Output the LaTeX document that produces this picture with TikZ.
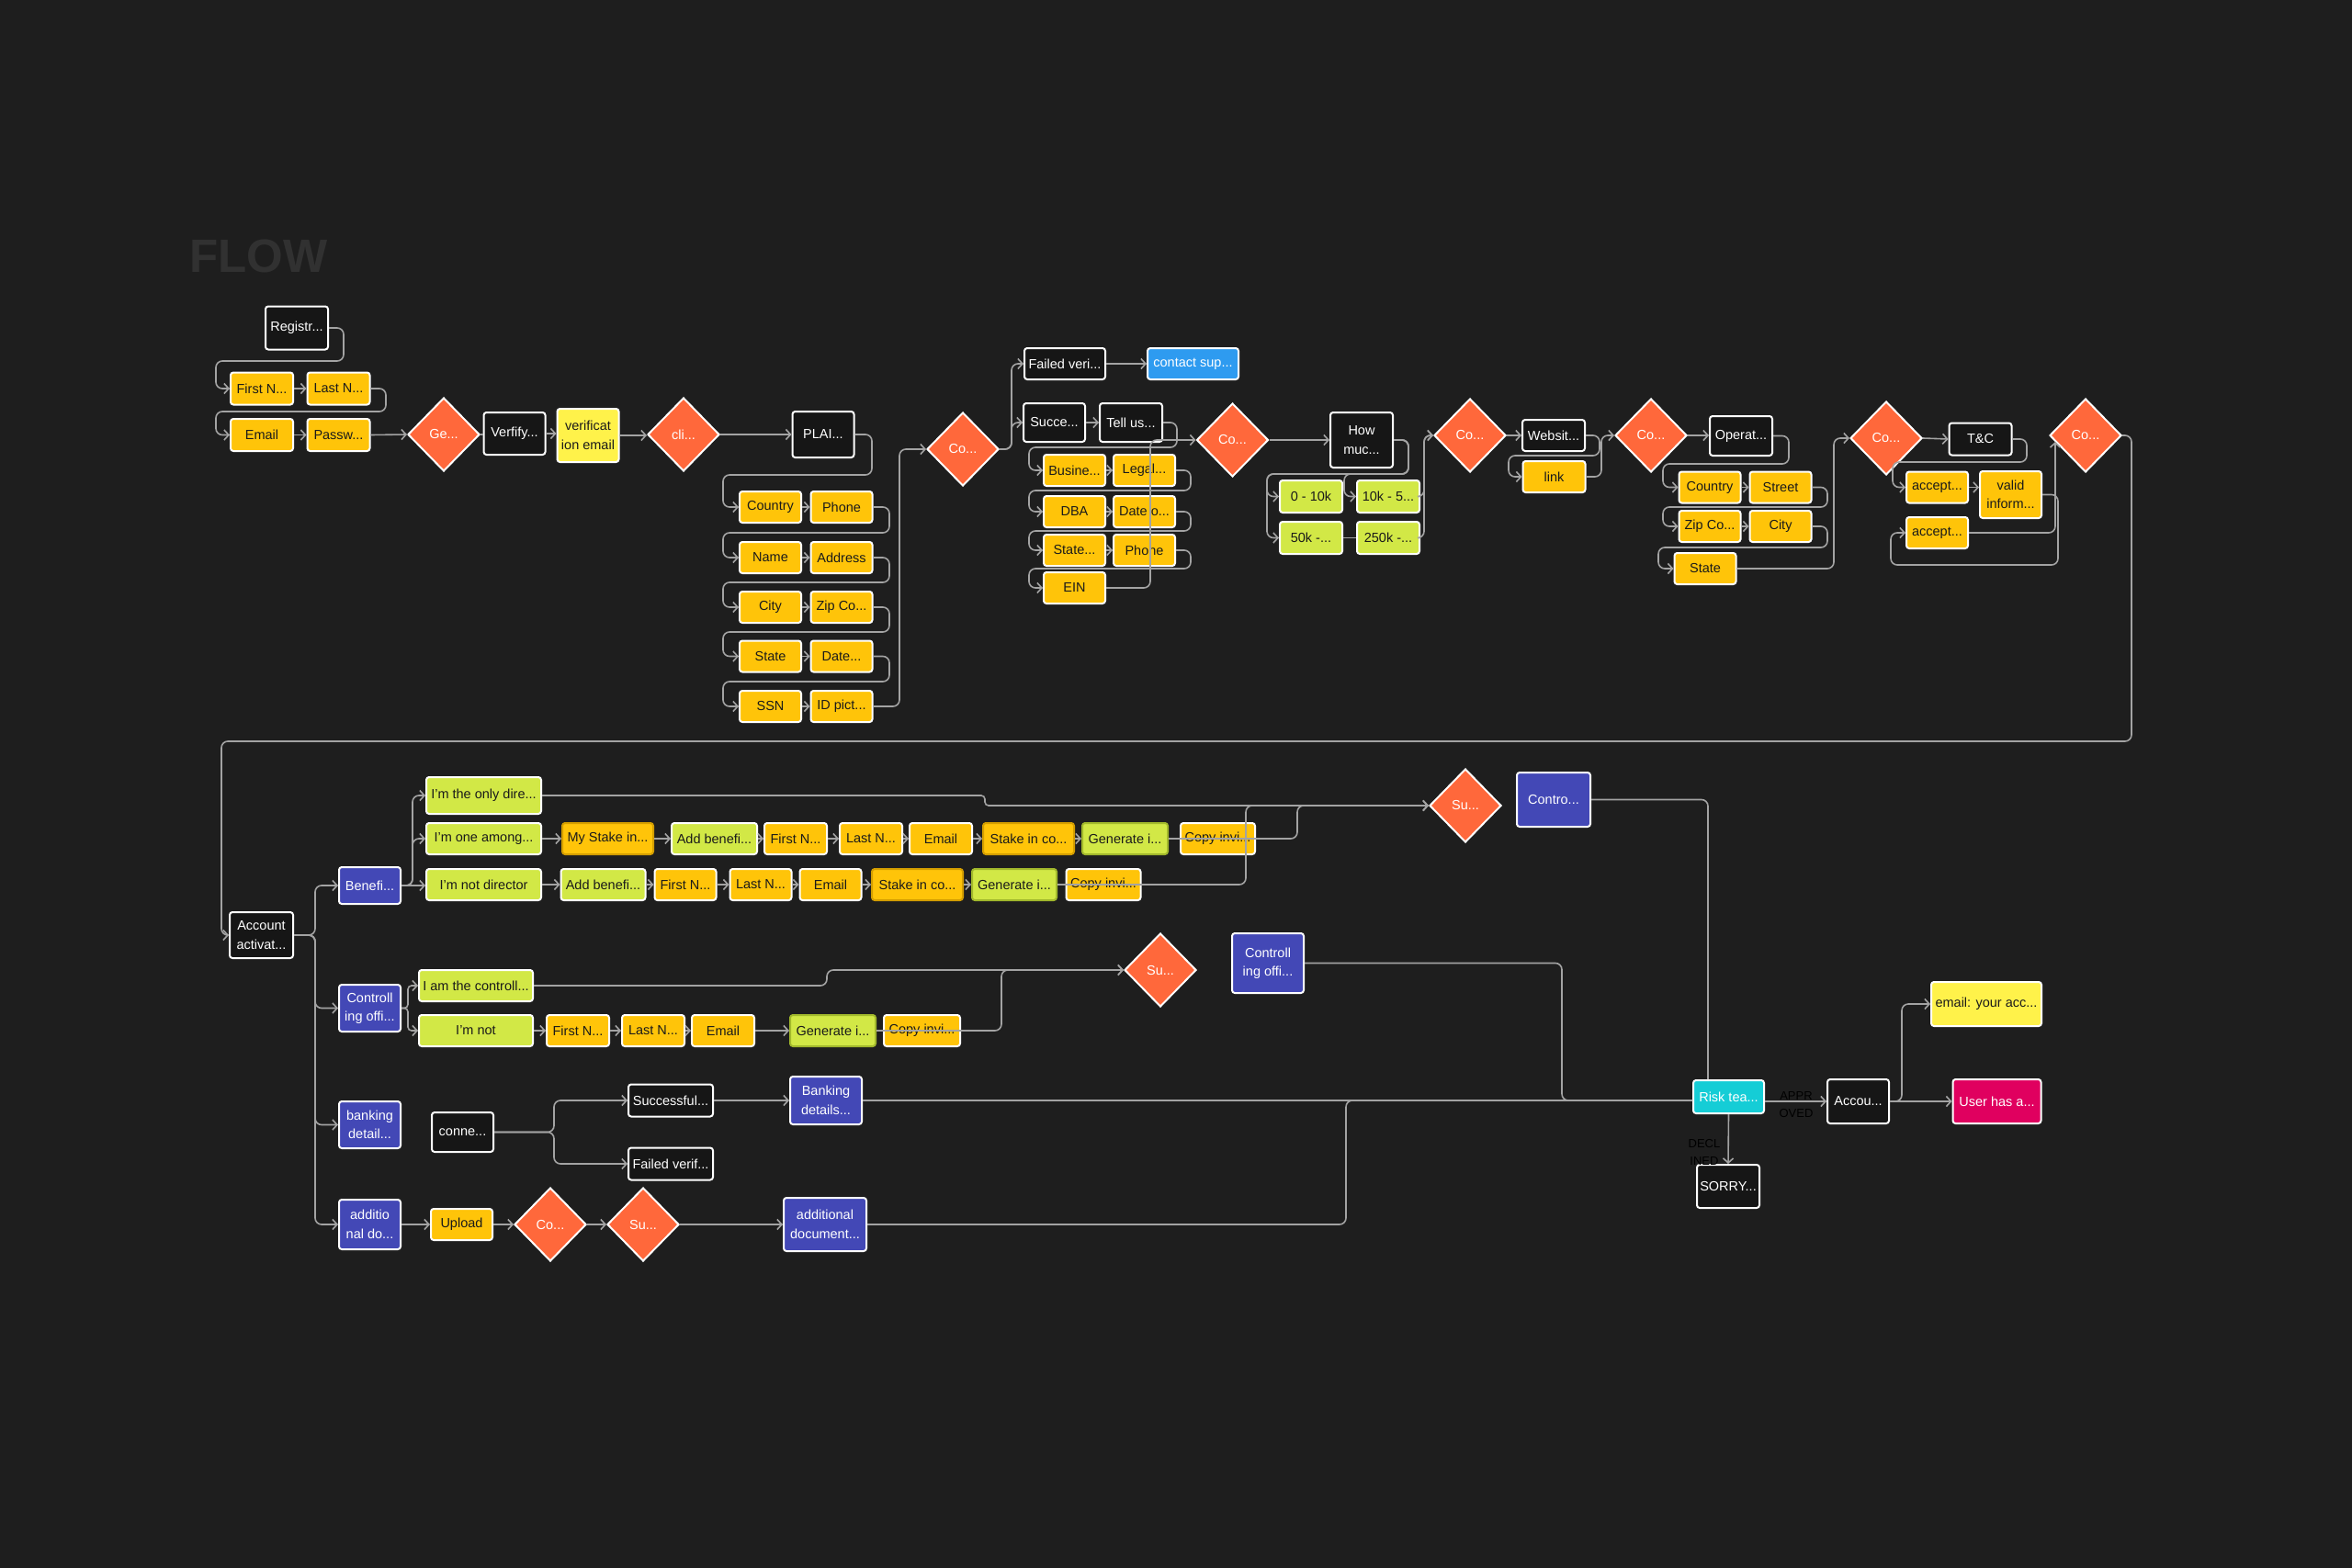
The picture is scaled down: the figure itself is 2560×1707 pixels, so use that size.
\documentclass[tikz,border=0pt]{standalone}
\usepackage{fontspec}
\setmainfont{Liberation Sans}
\usetikzlibrary{shapes.geometric,arrows.meta,calc}

\definecolor{bg}{HTML}{1E1E1E}
\definecolor{flowc}{HTML}{313131}
\definecolor{boxblk}{HTML}{161616}
\definecolor{ylwc}{HTML}{FFC409}
\definecolor{ylwd}{HTML}{D49E00}
\definecolor{limec}{HTML}{D2E846}
\definecolor{limed}{HTML}{A2B92C}
\definecolor{vylw}{HTML}{FFF24A}
\definecolor{indc}{HTML}{4348B6}
\definecolor{orc}{HTML}{FF683B}
\definecolor{bluec}{HTML}{2E9BF0}
\definecolor{cyanc}{HTML}{15CDD6}
\definecolor{magc}{HTML}{E0005F}
\definecolor{linec}{HTML}{A3A3A3}
\definecolor{txtd}{HTML}{1A1A1A}

\tikzset{
  nd/.style={draw=white, line width=2pt, rounded corners=3pt, minimum width=67pt, minimum height=34pt,
    inner sep=1pt, align=center, font=\fontsize{14.5}{20.5}\selectfont},
  sz/.style 2 args={minimum width=#1pt, minimum height=#2pt},
  blk/.style={nd, fill=boxblk, text=white},
  ylw/.style={nd, fill=ylwc, text=txtd},
  ylwx/.style={ylw, draw=ylwd},
  lim/.style={nd, fill=limec, text=txtd},
  limx/.style={lim, draw=limed},
  vyl/.style={nd, fill=vylw, text=txtd},
  ind/.style={nd, fill=indc, text=white},
  blu/.style={nd, fill=bluec, text=white},
  cya/.style={nd, fill=cyanc, text=white},
  mag/.style={nd, fill=magc, text=white},
  dia/.style={diamond, draw=white, line width=2pt, fill=orc, text=white, minimum width=78pt,
    minimum height=80pt, inner sep=0pt, font=\fontsize{14.5}{17}\selectfont},
  lbl/.style={inner sep=0pt, align=center, text=black, font=\fontsize{13}{19}\selectfont},
  conn/.style={draw=linec, line width=1.6pt, rounded corners=7pt, -{Straight Barb[length=5pt,width=11pt]}},
  plain/.style={draw=linec, line width=1.6pt, rounded corners=7pt},
}

\begin{document}
\begin{tikzpicture}[x=1pt,y=-1pt]
\useasboundingbox (0,0) rectangle (2560,1707);
\fill[bg] (0,0) rectangle (2560,1707);

\node[anchor=base west, inner sep=0pt, text=flowc, font=\fontsize{51}{60}\selectfont\bfseries] (title) at (206,296) {FLOW};

% ---------- top section ----------
\node[blk, sz={68}{47}] (reg) at (323,357) {Registr...};
\node[ylw, sz={68}{35}] (first) at (285,423) {First N...};
\node[ylw, sz={68}{35}] (last) at (368.5,423) {Last N...};
\node[ylw, sz={68}{35}] (email) at (285,473.5) {Email};
\node[ylw, sz={68}{35}] (passw) at (368.5,473.5) {Passw...};
\node[dia] (ge) at (483,473) {Ge...};
\node[blk, sz={67}{46}] (verf) at (560,472) {Verfify...};
\node[vyl, sz={67}{58}] (vem) at (640,474) {verificat\\ion email};
\node[dia] (cli) at (744,473) {cli...};
\node[blk, sz={67}{50}] (plai) at (896,473) {PLAI...};

\node[ylw] (country) at (838.5,552) {Country};
\node[ylw] (phone) at (916,552) {Phone};
\node[ylw] (name) at (838.5,607) {Name};
\node[ylw] (addr) at (916,607) {Address};
\node[ylw] (city) at (838.5,661) {City};
\node[ylw] (zip) at (916,661) {Zip Co...};
\node[ylw] (state) at (838.5,714.5) {State};
\node[ylw] (date) at (916,714.5) {Date...};
\node[ylw] (ssn) at (838.5,769) {SSN};
\node[ylw] (idp) at (916,769) {ID pict...};

\node[dia] (coA) at (1048,489) {Co...};
\node[blk, sz={88}{34}] (failed) at (1159,396) {Failed veri...};
\node[blu, sz={99}{34}] (contact) at (1298.5,396) {contact sup...};
\node[blk, sz={67}{42}] (succ) at (1147.5,460) {Succe...};
\node[blk, sz={68}{42}] (tell) at (1231,460) {Tell us...};
\node[ylw] (busi) at (1169.5,512) {Busine...};
\node[ylw] (legal) at (1245.5,512) {Legal...};
\node[ylw] (dba) at (1169.5,557) {DBA};
\node[ylw] (dateo) at (1245.5,557) {Date o...};
\node[ylw] (state2) at (1169.5,599) {State...};
\node[ylw] (phone2) at (1245.5,599) {Phone};
\node[ylw] (ein) at (1169.5,640) {EIN};

\node[dia] (coB) at (1341.5,479) {Co...};
\node[blk, sz={68}{60}] (hm) at (1482,479) {How\\muc...};
\node[lim, sz={68}{35}] (r1) at (1427,540.5) {0 - 10k};
\node[lim, sz={68}{35}] (r2) at (1511,540.5) {10k - 5...};
\node[lim, sz={68}{35}] (r3) at (1427,585.5) {50k -...};
\node[lim, sz={68}{35}] (r4) at (1511,585.5) {250k -...};

\node[dia] (coC) at (1600,474) {Co...};
\node[blk, sz={68}{34}] (web) at (1691,474) {Websit...};
\node[ylw, sz={68}{34}] (link) at (1691.5,519) {link};
\node[dia] (coD) at (1797,474) {Co...};
\node[blk, sz={68}{43}] (oper) at (1895,474.5) {Operat...};
\node[ylw] (country2) at (1861,530.5) {Country};
\node[ylw] (street) at (1938,530.5) {Street};
\node[ylw] (zip2) at (1861,573) {Zip Co...};
\node[ylw] (city2) at (1938,573) {City};
\node[ylw] (state3) at (1856,619) {State};
\node[dia] (coE) at (2053,477) {Co...};
\node[blk, sz={68}{35}] (tc) at (2155.5,478) {T\&C};
\node[ylw] (acc1) at (2108.5,530.5) {accept...};
\node[ylw, sz={67}{51}] (valid) at (2188.5,538.5) {valid\\inform...};
\node[ylw] (acc2) at (2108.5,580) {accept...};
\node[dia] (coF) at (2270,474) {Co...};

% ---------- lower section ----------
\node[blk, sz={69}{50}] (acct) at (284.5,1018) {Account\\activat...};
\node[ind, sz={67}{40}] (ben) at (402.5,964) {Benefi...};
\node[lim, sz={125}{40}] (only) at (526.5,866) {I'm the only dire...};
\node[lim, sz={125}{34}] (one) at (526.5,913) {I'm one among...};
\node[lim, sz={125}{34}] (notd) at (526.5,963) {I'm not director};

\node[ylwx, sz={99}{34}] (mys) at (661.5,913) {My Stake in...};
\node[lim, sz={93}{34}] (add2) at (777.5,913) {Add benefi...};
\node[ylw, sz={68}{34}] (first2) at (866,913) {First N...};
\node[ylw, sz={68}{34}] (last2) at (948,913) {Last N...};
\node[ylw, sz={68}{34}] (email2) at (1024,913) {Email};
\node[ylwx, sz={99}{34}] (stake2) at (1119.5,913) {Stake in co...};
\node[limx, sz={93}{34}] (gen2) at (1224.5,913) {Generate i...};
\node[ylw, sz={81}{34}] (copy2) at (1325.5,913) {Copy invi...};

\node[lim, sz={92}{34}] (add3) at (656.5,963) {Add benefi...};
\node[ylw, sz={67}{34}] (first3) at (746,963) {First N...};
\node[ylw, sz={67}{34}] (last3) at (828,963) {Last N...};
\node[ylw, sz={67}{34}] (email3) at (904,963) {Email};
\node[ylwx, sz={99}{34}] (stake3) at (998.5,963) {Stake in co...};
\node[limx, sz={92}{34}] (gen3) at (1104,963) {Generate i...};
\node[ylw, sz={81}{34}] (copy3) at (1201,963) {Copy invi...};

\node[dia] (su1) at (1595,877) {Su...};
\node[ind, sz={80}{59}] (contro) at (1691,870.5) {Contro...};

\node[ind, sz={67}{51}] (ctrl1) at (402.5,1097.5) {Controll\\ing offi...};
\node[lim, sz={124}{34}] (amc) at (518,1073) {I am the controll...};
\node[lim, sz={124}{34}] (notc) at (518,1122) {I'm not};
\node[ylw, sz={68}{34}] (first4) at (629,1122) {First N...};
\node[ylw, sz={68}{34}] (last4) at (711,1122) {Last N...};
\node[ylw, sz={68}{34}] (email4) at (787,1122) {Email};
\node[limx, sz={93}{34}] (gen4) at (906.5,1122) {Generate i...};
\node[ylw, sz={83}{34}] (copy4) at (1003.5,1122) {Copy invi...};
\node[dia] (su2) at (1263,1056) {Su...};
\node[ind, sz={78}{65}] (ctrl2) at (1380,1048.5) {Controll\\ing offi...};

\node[ind, sz={67}{51}] (bank) at (402.5,1224.5) {banking\\detail...};
\node[blk, sz={67}{43}] (conne) at (503.5,1232.5) {conne...};
\node[blk, sz={92}{35}] (succ2) at (730,1198) {Successful...};
\node[blk, sz={92}{35}] (fail2) at (730,1267) {Failed verif...};
\node[ind, sz={78}{52}] (bdet) at (899,1198) {Banking\\details...};

\node[ind, sz={67}{54}] (addo) at (402.5,1333) {additio\\nal do...};
\node[ylw, sz={67}{34}] (upl) at (502.5,1333) {Upload};
\node[dia] (coG) at (599,1333) {Co...};
\node[dia] (suG) at (700,1333) {Su...};
\node[ind, sz={90}{58}] (adoc) at (898,1333) {additional\\document...};

\node[cya, sz={77}{36}] (risk) at (1881.5,1194) {Risk tea...};
\node[blk, sz={67}{48}] (accou) at (2022.5,1199) {Accou...};
\node[vyl, sz={120}{48}] (emailr) at (2162,1093) {email: your acc...};
\node[mag, sz={96}{48}] (user) at (2173.5,1199) {User has a...};
\node[blk, sz={68}{47}] (sorry) at (1881,1291.5) {SORRY...};

\node[lbl] (lapp) at (1955,1203) {APPR\\OVED};
\node[lbl] (ldec) at (1855,1254) {DECL\\INED};

% ---------- connectors: top ----------
\draw[conn] (reg.east) -| (374,393) -| (235,423) -- (first.west);
\draw[conn] (first.east) -- (last.west);
\draw[conn] (last.east) -| (420,448) -| (235,473.5) -- (email.west);
\draw[conn] (email.east) -- (passw.west);
\draw[conn] (passw.east) -- (ge.west);
\draw[plain] (ge.east) -- (ge.east -| verf.west);
\draw[conn] (verf.east) -- (verf.east -| vem.west);
\draw[conn] (vem.east) -- (vem.east -| cli.west);
\draw[conn] (cli.east) -- (plai.west);

\draw[conn] (plai.east) -| (949,517) -| (787,552) -- (country.west);
\draw[conn] (country.east) -- (phone.west);
\draw[conn] (phone.east) -| (968,580) -| (787,607) -- (name.west);
\draw[conn] (name.east) -- (addr.west);
\draw[conn] (addr.east) -| (968,634) -| (787,661) -- (city.west);
\draw[conn] (city.east) -- (zip.west);
\draw[conn] (zip.east) -| (968,688) -| (787,714.5) -- (state.west);
\draw[conn] (state.east) -- (date.west);
\draw[conn] (date.east) -| (968,742) -| (787,769) -- (ssn.west);
\draw[conn] (ssn.east) -- (idp.west);
\draw[conn] (idp.east) -| (979,489) -- (coA.west);

\draw[conn] (coA.east) -| (1101,460) -- (succ.west);
\draw[conn] (coA.east) -| (1101,396) -- (failed.west);
\draw[conn] (failed.east) -- (contact.west);
\draw[conn] (succ.east) -- (tell.west);
\draw[conn] (tell.east) -| (1281,487) -| (1120,512) -- (busi.west);
\draw[conn] (busi.east) -- (legal.west);
\draw[conn] (legal.east) -| (1296,534) -| (1120,557) -- (dba.west);
\draw[conn] (dba.east) -- (dateo.west);
\draw[conn] (dateo.east) -| (1296,578) -| (1120,599) -- (state2.west);
\draw[conn] (state2.east) -- (phone2.west);
\draw[conn] (phone2.east) -| (1296,619) -| (1120,640) -- (ein.west);
\draw[conn] (ein.east) -| (1252,479) -- (coB.west);

\draw[conn] (coB.east) -- (hm.west);
\draw[conn] (hm.east) -| (1533,516) -| (1379,540.5) -- (r1.west);
\draw[conn] (hm.east) -| (1533,516) -| (1463,540.5) -- (r2.west);
\draw[conn] (hm.east) -| (1533,516) -| (1379,585.5) -- (r3.west);
\draw[plain] (r3.east) -- (r4.west);
\draw[conn] (r2.east) -| (1550,474) -- (coC.west);
\draw[conn] (r4.east) -| (1550,474) -- (coC.west);

\draw[conn] (coC.east) -- (web.west);
\draw[conn] (web.east) -| (1741,496) -| (1642,519) -- (link.west);
\draw[conn] (link.east) -| (1743,474) -- (coD.west);
\draw[conn] (coD.east) -- (coD.east -| oper.west);
\draw[conn] (oper.east) -| (1947,505) -| (1810,530.5) -- (country2.west);
\draw[conn] (country2.east) -- (street.west);
\draw[conn] (street.east) -| (1989,552) -| (1810,573) -- (zip2.west);
\draw[conn] (zip2.east) -- (city2.west);
\draw[conn] (city2.east) -| (1989,596) -| (1805,619) -- (state3.west);
\draw[conn] (state3.east) -| (1996,477) -- (coE.west);
\draw[conn] (coE.east) -- (tc.west);
\draw[conn] (tc.east) -| (2206,503) -| (2060,530.5) -- (acc1.west);
\draw[conn] (acc1.east) -- (acc1.east -| valid.west);
\draw[conn] (valid.east) -| (2240,615) -| (2058,580) -- (acc2.west);
\draw[conn] (acc2.east) -| ([xshift=7pt,yshift=-7pt]coF.west);
\draw[conn] (coF.east) -| (2320,807) -| (241,1018) -- (acct.west);

% ---------- connectors: lower ----------
\draw[conn] (acct.east) -- (343,1018) |- (ben.west);
\draw[conn] (acct.east) -- (343,1018) |- (ctrl1.west);
\draw[conn] (acct.east) -- (343,1018) |- (bank.west);
\draw[conn] (acct.east) -- (343,1018) |- (addo.west);

\draw[conn] (ben.east) -- (449,964) |- (only.west);
\draw[conn] (ben.east) -- (449,964) |- (one.west);
\draw[conn] (ben.east) -- (ben.east -| notd.west);

\draw[conn, rounded corners=4pt] (only.east) -| (1072,877) -- (su1.west);
\draw[conn] (one.east) -- (mys.west);
\draw[conn] (mys.east) -- (add2.west);
\draw[conn] (add2.east) -- (first2.west);
\draw[conn] (first2.east) -- (last2.west);
\draw[conn] (last2.east) -- (email2.west);
\draw[conn] (email2.east) -- (stake2.west);
\draw[conn] (stake2.east) -- (gen2.west);
\draw[conn] (gen2.east) -| (1412,877) -- (su1.west);

\draw[conn] (notd.east) -- (add3.west);
\draw[conn] (add3.east) -- (first3.west);
\draw[conn] (first3.east) -- (last3.west);
\draw[conn] (last3.east) -- (email3.west);
\draw[conn] (email3.east) -- (stake3.west);
\draw[conn] (stake3.east) -- (gen3.west);
\draw[conn] (gen3.east) -| (1356,877) -- (su1.west);

\draw[conn, rounded corners=4pt] (ctrl1.east) -- (444,1097.5) |- (amc.west);
\draw[conn, rounded corners=4pt] (ctrl1.east) -- (444,1097.5) |- (notc.west);
\draw[conn] (amc.east) -| (900,1056) -- (su2.west);
\draw[conn] (notc.east) -- (first4.west);
\draw[conn] (first4.east) -- (last4.west);
\draw[conn] (last4.east) -- (email4.west);
\draw[conn] (email4.east) -- (gen4.west);
\draw[conn] (gen4.east) -| (1090,1056) -- (su2.west);

\draw[conn] (conne.east) -- (603,1232.5) |- (succ2.west);
\draw[conn] (conne.east) -- (603,1232.5) |- (fail2.west);
\draw[conn] (succ2.east) -- (bdet.west);

\draw[conn] (addo.east) -- (upl.west);
\draw[conn] (upl.east) -- (coG.west);
\draw[conn] (coG.east) -- (suG.west);
\draw[conn] (suG.east) -- (adoc.west);

\draw[plain] (contro.east) -| ([xshift=17pt]risk.north west);
\draw[plain] (bdet.east) -- (bdet.east -| risk.west);
\draw[plain] (ctrl2.east) -| (1700,1198) -- (bdet.east -| risk.west);
\draw[plain] (adoc.east) -| (1465,1198) -- (bdet.east -| risk.west);

\draw[conn] (risk.east |- accou.west) -- (accou.west);
\draw[conn] (accou.east) -- (user.west);
\draw[conn] (accou.east) -| (2070,1093) -- (emailr.west);
\draw[conn] (risk.south) -- (sorry.north);
\end{tikzpicture}
\end{document}
